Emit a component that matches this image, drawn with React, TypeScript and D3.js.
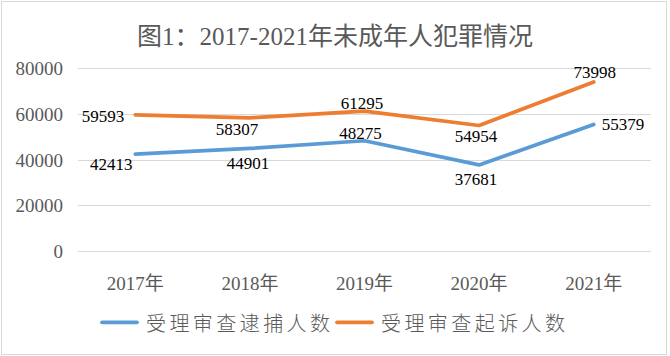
import React from "react";
import * as d3 from "d3";

const categories = ["2017年", "2018年", "2019年", "2020年", "2021年"];
const arrestValues = [42413, 44901, 48275, 37681, 55379];
const prosecuteValues = [59593, 58307, 61295, 54954, 73998];
const seriesNames = ["受理审查逮捕人数", "受理审查起诉人数"];
const yTicks = [0, 20000, 40000, 60000, 80000];
const title = "图1：2017-2021年未成年人犯罪情况";

// label placement (layout, not data): [dx, dy, anchor]
const arrestLabelOffsets: [number, number, string][] = [
  [-24, 10.5, "middle"], [-2, 14.7, "middle"], [-4, -7.6, "middle"], [-3, 14.7, "middle"], [8, 0, "start"],
];
const prosecuteLabelOffsets: [number, number, string][] = [
  [-11, 1, "end"], [-13, 11.4, "middle"], [-2.5, -8.3, "middle"], [-3, 10.7, "middle"], [1, -10, "middle"],
];

const W = 670, H = 356;
const FONT = "Liberation Serif, Times New Roman, Noto Sans CJK SC, serif";
const CJK = "Noto Sans CJK SC, sans-serif";
const GRAY = "#595959";

export default function App() {
  const x = d3.scalePoint<string>().domain(categories).range([78, 651]).padding(0.5);
  const y = d3.scaleLinear().domain([0, 80000]).range([251, 68.3]);
  const line = d3.line<number>().x((_, i) => x(categories[i]) as number).y((d) => y(d));
  const series = [
    { name: seriesNames[0], values: arrestValues, color: "#5B9BD5", offs: arrestLabelOffsets },
    { name: seriesNames[1], values: prosecuteValues, color: "#ED7D31", offs: prosecuteLabelOffsets },
  ];
  const serif = { fontFamily: FONT };
  return (
    <svg width={W} height={H} style={{ position: "absolute", left: 0, top: 0 }}>
      <rect x={0} y={0} width={W} height={H} fill="#fff" />
      <rect x={1.5} y={1.5} width={665} height={353} fill="none" stroke="#d9d9d9" strokeWidth={1} />
      <text x={335} y={45} textAnchor="middle" style={serif} fontSize={25} fill={GRAY}>{title}</text>
      {yTicks.map((t) => (
        <g key={t}>
          <line x1={78} x2={651} y1={Math.round(y(t)) + 0.5} y2={Math.round(y(t)) + 0.5} stroke="#d9d9d9" strokeWidth={1} />
          <text x={63} y={y(t) + 7} textAnchor="end" style={serif} fontSize={19} fill={GRAY}>{t}</text>
        </g>
      ))}
      {categories.map((c) => (
        <text key={c} x={x(c)} y={290} textAnchor="middle" style={serif} fontSize={19} fill={GRAY}>{c}</text>
      ))}
      {series.map((s) => (
        <path key={s.name} d={line(s.values) || ""} fill="none" stroke={s.color} strokeWidth={3.75} strokeLinecap="round" strokeLinejoin="round" />
      ))}
      {series.map((s) =>
        s.values.map((v, i) => {
          const [dx, dy, anchor] = s.offs[i];
          return (
            <text key={s.name + i} x={(x(categories[i]) as number) + dx} y={y(v) + dy + 5.8} textAnchor={anchor as any} style={serif} fontSize={17} fill="#000">{v}</text>
          );
        })
      )}
      {series.map((s, i) => {
        const lx = i === 0 ? 102 : 337;
        return (
          <g key={"lg" + i}>
            <line x1={lx} x2={lx + 35} y1={322.3} y2={322.3} stroke={s.color} strokeWidth={3.75} strokeLinecap="round" />
            <text x={lx + 44} y={330.5} style={{ fontFamily: CJK, fontWeight: 300 }} fontSize={20} fill={GRAY} textLength={184} lengthAdjust="spacing">{s.name}</text>
          </g>
        );
      })}
    </svg>
  );
}
